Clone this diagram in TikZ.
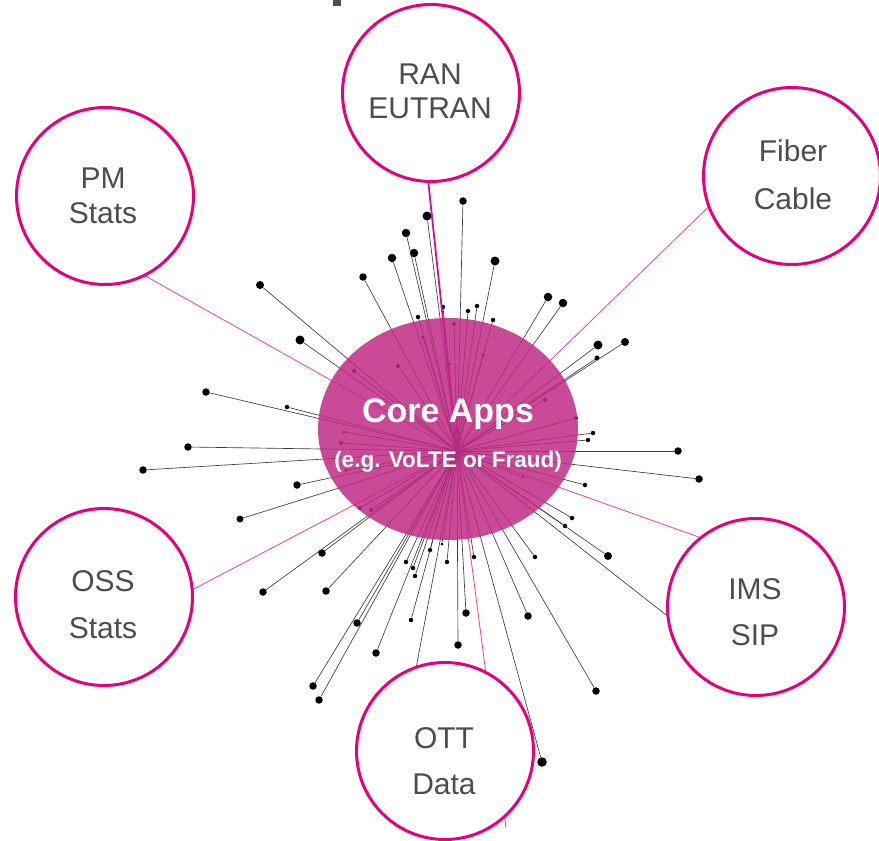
\documentclass[tikz,border=0pt]{standalone}
\usepackage{fontspec}
\setmainfont{Liberation Sans}
\usetikzlibrary{shapes.geometric}
\definecolor{ringc}{HTML}{E6007E}
\definecolor{corec}{HTML}{C02A84}
\definecolor{linkc}{HTML}{E040A8}
\definecolor{ranc}{HTML}{CC10A0}
\definecolor{txtc}{HTML}{4D4D4D}
\definecolor{spokec}{HTML}{3A3A3A}
\tikzset{
  ring/.style={circle, draw=ringc, line width=3pt, fill=white, minimum size=177pt, inner sep=0pt},
  lbl/.style={anchor=base, text=txtc, font=\fontsize{30}{34}\selectfont, inner sep=0pt},
  dotn/.style={circle, fill=black, inner sep=0pt},
  spoke/.style={draw=spokec, line width=0.65pt},
  linkl/.style={draw=linkc, line width=0.8pt},
  corel/.style={anchor=base, text=white, inner sep=0pt}
}
\begin{document}
\begin{tikzpicture}[x=1pt,y=-1pt]
\useasboundingbox (0,0) rectangle (879,841);
\fill[txtc] (333,0) rectangle (341,6);
\coordinate (hub) at (457,451);
% dots
\foreach \x/\y/\s [count=\i] in {
 463/201/7.5, 427/216/9, 406/233/8.5, 414/253/8.5, 392/258/8.5, 495/261/9,
 363/277/7.5, 260/285/8, 300/340/9, 548/297/8.5, 563/303/8.5, 598/345/9,
 625/342/8, 597/358/5, 443/307/4.5, 418/317/4.5, 468/311/4.5, 477/306/4.5,
 493/320/4.5, 206/392/7.5, 287/407/4.5, 188/447/7.5, 143/470/7.5, 297/485/7.5,
 240/519/7, 322/553/7.5, 263/592/7.5, 326/591/7.5, 357/623/7.5, 376/653/7.5,
 313/686/7.5, 319/700/7.5, 406/562/4.5, 413/568/4.5, 415/576/4.5, 430/550/4.5,
 442/544/3, 447/562/4.5, 474/557/4.5, 411/620/4.5, 466/613/7.5, 458/645/7.5,
 535/557/4.5, 528/616/7.5, 596/691/7.5, 542/762/9.5, 608/556/8, 565/526/4.5,
 572/518/4.5, 585/485/4.5, 593/433/4.5, 588/440/4.5, 678/451/7.5, 699/479/7.5,
 423/337/3.5, 398/366/4, 354/371/4, 454/324/4, 449/364/3.5, 483/355/3.5,
 545/400/4, 576/418/4, 344/432/3.5, 341/443/4, 346/470/3.5, 360/508/4,
 371/510/4, 523/477/3}
 \node[dotn, minimum size=\s pt] (d\i) at (\x,\y) {};
\foreach \i in {1,...,68} \draw[spoke] (hub) -- (d\i);
% lines running under the rings
\coordinate (eOTT) at (411,695);
\coordinate (eIMS) at (684,629);
\draw[spoke] (hub) -- (eOTT);
\draw[spoke] (hub) -- (eIMS);
\coordinate (pPM) at (133,269);
\coordinate (pRAN) at (425,151);
\coordinate (pFib) at (730,186);
\coordinate (pIMS) at (724,546);
\coordinate (pOSS) at (169,602);
\coordinate (pOTT) at (506,828);
\draw[linkl] (hub) -- (pPM);
\draw[linkl] (hub) -- (pFib);
\draw[linkl] (hub) -- (pIMS);
\draw[linkl] (hub) -- (pOSS);
\draw[linkl] (hub) -- (pOTT);
\draw[draw=ranc, line width=1.8pt] (hub) -- (pRAN);
% core
\node[ellipse, fill=corec, fill opacity=0.85, minimum width=260pt, minimum height=222pt, inner sep=0pt] (core) at (448,429) {};
\node[corel, font=\bfseries\fontsize{34}{40}\selectfont] (coreA) at (448,422) {Core Apps};
\node[corel, font=\bfseries\fontsize{22.5}{26}\selectfont] (coreB) at (448,467) {(e.g. VoLTE or Fraud)};
% rings
\node[ring] (ran) at (431,93) {};
\node[ring] (pm) at (105,196) {};
\node[ring] (fib) at (792,176) {};
\node[ring] (oss) at (104,597) {};
\node[ring] (ims) at (756,607) {};
\node[ring] (ott) at (445,751) {};
\node[lbl] (ranA) at (430,84) {RAN};
\node[lbl] (ranB) at (430,118) {EUTRAN};
\node[lbl] (pmA) at (103,188) {PM};
\node[lbl] (pmB) at (103,223) {Stats};
\node[lbl] (fibA) at (793,161) {Fiber};
\node[lbl] (fibB) at (793,209) {Cable};
\node[lbl] (ossA) at (103,591) {OSS};
\node[lbl] (ossB) at (103,638) {Stats};
\node[lbl] (imsA) at (755,599) {IMS};
\node[lbl] (imsB) at (755,645) {SIP};
\node[lbl] (ottA) at (444,748) {OTT};
\node[lbl] (ottB) at (444,794) {Data};
\end{tikzpicture}
\end{document}
